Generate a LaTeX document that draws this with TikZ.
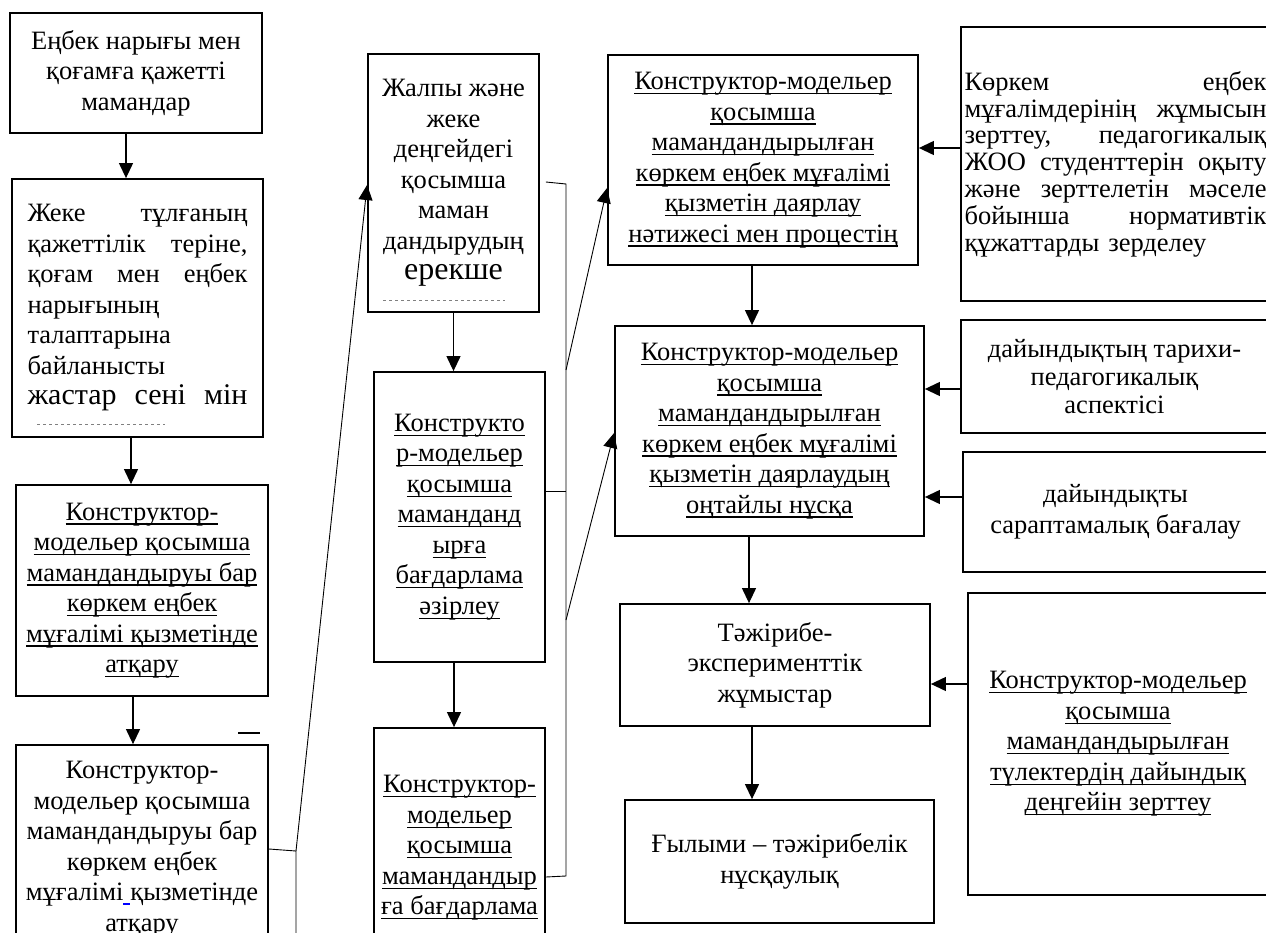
\documentclass[tikz,border=0pt]{standalone}
\usepackage{fontspec}
\setmainfont{Liberation Serif}
\usetikzlibrary{arrows.meta}
\newsavebox{\ulbox}
\newcommand{\uln}[1]{\sbox{\ulbox}{#1}\rlap{\rule[-4.5pt]{\wd\ulbox}{1.2pt}}\usebox{\ulbox}}

\begin{document}
\begin{tikzpicture}[x=1pt,y=-1pt]

\tikzset{box/.style = {draw, line width=1.8pt, inner sep=0pt, align=center, font=\fontsize{26.5}{30.5}\selectfont}}
\tikzset{edge/.style = {-{Triangle[length=15pt,width=14pt]}, line width=1.2pt}}
\tikzset{link/.style = {line width=0.9pt}}

\useasboundingbox (0,0) rectangle (1266,933);
\fill[white] (0,0) rectangle (1266,933);
\clip (0,0) rectangle (1266,933);

% boxes
\node[box, minimum width=252pt, minimum height=120pt] (A) at (136,73) {Еңбек нарығы мен\\ қоғамға қажетті\\ мамандар};
\node[box, align=left, text width=220pt, minimum width=251pt, minimum height=258pt] (B) at (137.5,308) {Жеке \hfill тұлғаның\\ қажеттілік \hfill теріне,\\ қоғам \hfill мен \hfill еңбек\\ нарығының\\ талаптарына\\ байланысты\\ {\fontsize{30}{34}\selectfont жастар \hfill сені \hfill мін}};
\node[box, minimum width=252pt, minimum height=211pt] (C) at (142,590.5) {\uln{Конструктор-}\\ \uln{модельер қосымша}\\ \uln{мамандандыруы бар}\\ \uln{көркем еңбек}\\ \uln{мұғалімі қызметінде}\\ \uln{атқару}};
\node[box, minimum width=252pt, minimum height=208pt] (D) at (142,849) {Конструктор-\\ модельер қосымша\\ мамандандыруы бар\\ көркем еңбек\\ мұғалімі\textcolor{blue}{\rule[-4pt]{7pt}{1.3pt}}қызметінде\\ атқару};
\node[box, minimum width=171pt, minimum height=258pt] (E) at (453.5,183) {Жалпы және\\ жеке\\ деңгейдегі\\ қосымша\\ маман\\ дандырудың\\ {\fontsize{32}{36}\selectfont ерекше}};
\node[box, minimum width=171pt, minimum height=290pt] (F) at (459.5,517) {\uln{Конструкто}\\ \uln{р-модельер}\\ \uln{қосымша}\\ \uln{маманданд}\\ \uln{ырға}\\ \uln{бағдарлама}\\ \uln{әзірлеу}};
\node[box, minimum width=171pt, minimum height=240pt] (G) at (459.5,848) {\uln{Конструктор-}\\ \uln{модельер}\\ \uln{қосымша}\\ \uln{мамандандыр}\\ \uln{ға бағдарлама}};
\node[box, minimum width=310pt, minimum height=210pt] (I) at (763,160) {\uln{Конструктор-модельер}\\ \uln{қосымша}\\ \uln{мамандандырылған}\\ \uln{көркем еңбек мұғалімі}\\ \uln{қызметін даярлау}\\ \uln{нәтижесі мен процестің}};
\node[box, minimum width=309pt, minimum height=210pt] (J) at (769.5,431) {\uln{Конструктор-модельер}\\ \uln{қосымша}\\ \uln{мамандандырылған}\\ \uln{көркем еңбек мұғалімі}\\ \uln{қызметін даярлаудың}\\ \uln{оңтайлы нұсқа}};
\node[box, minimum width=310pt, minimum height=122pt] (K) at (775,665) {Тәжірибе-\\ эксперименттік\\ жұмыстар};
\node[box, minimum width=309pt, minimum height=123pt] (L) at (779.5,861.5) {Ғылыми – тәжірибелік\\ нұсқаулық};
\node[box, align=left, text width=302pt, minimum width=309pt, minimum height=274pt, font=\fontsize{26.5}{26.8}\selectfont] (N) at (1115.5,164) {Көркем \hfill еңбек\\ мұғалімдерінің \hfill жұмысын\\ зерттеу, \hfill педагогикалық\\ ЖОО \hfill студенттерін \hfill оқыту\\ және \hfill зерттелетін \hfill мәселе\\ бойынша \hfill нормативтік\\ құжаттарды зерделеу};
\node[box, minimum width=307pt, minimum height=113pt, font=\fontsize{26.5}{28}\selectfont] (O) at (1114.5,376.5) {дайындықтың тарихи-\\ педагогикалық\\ аспектісі};
\node[box, minimum width=305pt, minimum height=120pt] (P) at (1115.5,512) {дайындықты\\ сараптамалық бағалау};
\node[box, minimum width=300pt, minimum height=302pt] (M) at (1118,744) {\uln{Конструктор-модельер}\\ \uln{қосымша}\\ \uln{мамандандырылған}\\ \uln{түлектердің дайындық}\\ \uln{деңгейін зерттеу}};

% arrows
\draw[edge] ([xshift=-10pt]A.south) to ([xshift=-10pt]A.south |- B.north);
\draw[edge] ([xshift=-6.5pt]B.south) to ([xshift=-6.5pt]B.south |- C.north);
\draw[edge] ([xshift=-9pt]C.south) to ([xshift=-9pt]C.south |- D.north);
\draw[edge] (E.south) to (E.south |- F.north);
\draw[edge] ([xshift=-5.5pt]F.south) to ([xshift=-5.5pt]F.south |- G.north);
\draw[edge] ([xshift=-11pt]I.south) to ([xshift=-11pt]I.south |- J.north);
\draw[edge] ([xshift=-20.5pt]J.south) to ([xshift=-20.5pt]J.south |- K.north);
\draw[edge] ([xshift=-23pt]K.south) to ([xshift=-23pt]K.south |- L.north);
\draw[edge] (N.west |- 0,148) to (I.east |- 0,148);
\draw[edge] (O.west |- 0,389) to (J.east |- 0,389);
\draw[edge] (P.west |- 0,497) to (J.east |- 0,497);
\draw[edge] (M.west |- 0,684) to (K.east |- 0,684);

% brackets
\coordinate (lb) at (296,851);
\coordinate (mt) at (566,184);
\coordinate (mb) at (566,876);
\draw[link] (D.east |- 0,849) -- (lb) -- (296,940);
\draw[edge, link] (lb) to (E.west |- 0,185);
\draw[link] ([xshift=6pt]E.east |- 0,182) -- (mt) -- (mb) -- (G.east |- 0,877);
\draw[link] (F.east |- 0,491) -- (mt |- 0,491);
\draw[edge, link] (mt |- 0,370) to (I.west |- 0,188);
\draw[edge, link] (mt |- 0,620) to (J.west |- 0,433);

% cut-off marks
\draw[gray, dashed] (383,300) -- (505,300);
\draw[gray, dashed] (37,424) -- (165,424);
\draw[line width=1.5pt] (238,733) -- (260,733);

\end{tikzpicture}
\end{document}
